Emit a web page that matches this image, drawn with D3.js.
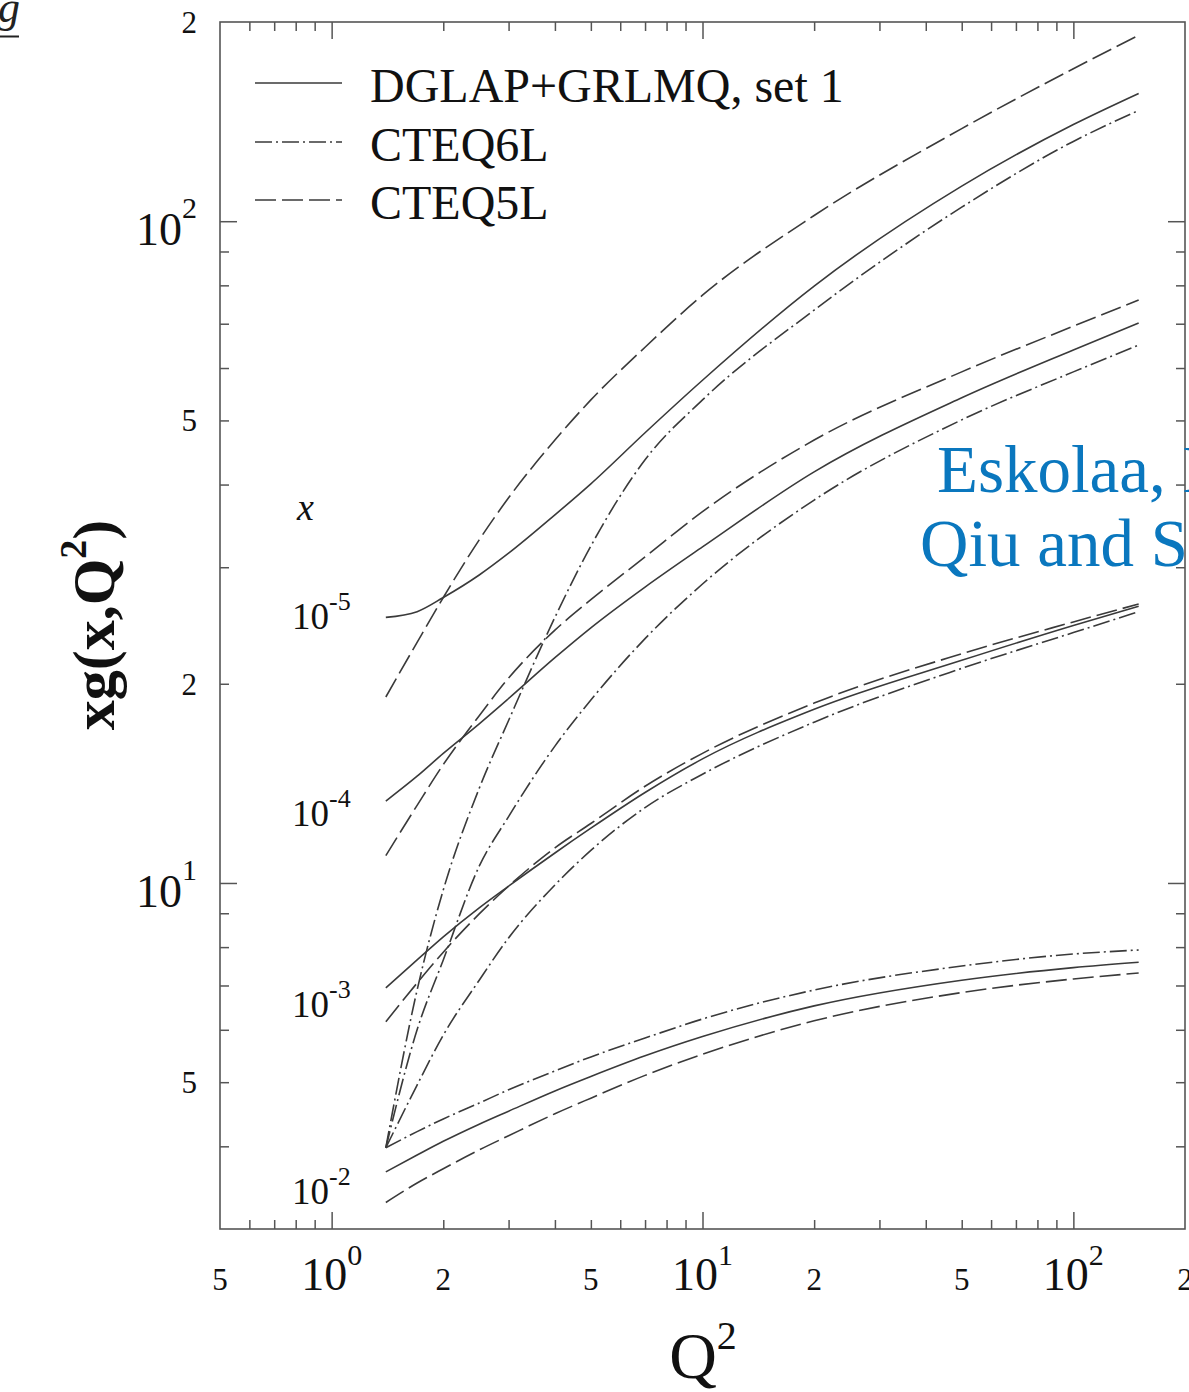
<!DOCTYPE html>
<html>
<head>
<meta charset="utf-8">
<script src="https://cdn.jsdelivr.net/npm/d3@7"></script>
<style>
  html, body { margin: 0; padding: 0; background: #fff; }
  svg { display: block; }
  text { font-family: "Liberation Serif", "Times New Roman", serif; }
</style>
</head>
<body>
<svg id="chart" width="1189" height="1392"></svg>
<script>
// Q^2 grid (GeV^2) shared by all curves
const Q2 = [1.4, 1.7, 2, 2.5, 3, 4, 5, 7, 10, 20, 50, 100, 150];

// x g(x,Q^2) for x = 1e-5
const grlmq_1e5  = [25.2, 25.7, 27.0, 29.2, 31.5, 36.0, 40.1, 47.9, 57.5, 79.8, 113, 140, 156];
const cteq6l_1e5 = [3.98, 6.89, 9.76, 13.9, 17.6, 25.2, 32.3, 43.6, 53.7, 73.4, 105, 132, 147];
const cteq5l_1e5 = [19.1, 23.1, 27.0, 33.0, 38.2, 46.7, 53.7, 64.5, 77.3, 102, 138, 170, 191];
// x = 1e-4
const grlmq_1e4  = [13.3, 14.5, 15.7, 17.4, 19.0, 21.9, 24.3, 28.0, 32.2, 41.8, 54.1, 63.9, 70.2];
const cteq6l_1e4 = [3.98, 6.00, 7.65, 10.6, 12.6, 16.1, 18.9, 23.4, 28.3, 37.9, 50.1, 59.2, 65.0];
const cteq5l_1e4 = [11.0, 13.1, 15.1, 17.9, 20.4, 24.1, 26.8, 31.1, 36.4, 46.7, 59.2, 69.4, 76.0];
// x = 1e-3
const grlmq_1e3  = [6.94, 7.65, 8.29, 9.17, 9.89, 11.1, 12.1, 13.7, 15.4, 18.3, 21.7, 24.5, 26.2];
const cteq6l_1e3 = [3.98, 4.95, 5.89, 7.13, 8.26, 9.93, 11.2, 13.0, 14.6, 17.5, 21.1, 23.9, 25.7];
const cteq5l_1e3 = [6.17, 7.06, 7.86, 8.98, 9.89, 11.3, 12.3, 14.0, 15.7, 18.7, 22.2, 24.8, 26.4];
// x = 1e-2
const grlmq_1e2  = [3.66, 3.88, 4.07, 4.32, 4.52, 4.85, 5.10, 5.48, 5.86, 6.52, 7.13, 7.45, 7.59];
const cteq6l_1e2 = [3.98, 4.21, 4.40, 4.65, 4.87, 5.20, 5.46, 5.83, 6.23, 6.89, 7.49, 7.81, 7.92];
const cteq5l_1e2 = [3.29, 3.52, 3.70, 3.95, 4.15, 4.48, 4.73, 5.12, 5.51, 6.19, 6.83, 7.16, 7.31];

// Legend entries
const legendNames = ["DGLAP+GRLMQ, set 1", "CTEQ6L", "CTEQ5L"];

// Axis tick values and labels
const xMajor = [1, 10, 100];
const xMinor = [0.6, 0.7, 0.8, 0.9, 2, 3, 4, 5, 6, 7, 8, 9, 20, 30, 40, 50, 60, 70, 80, 90];
const yMajor = [10, 100];
const yMinor = [4, 5, 6, 7, 8, 9, 20, 30, 40, 50, 60, 70, 80, 90];
const xLabelValues = [0.5, 1, 2, 5, 10, 20, 50, 100, 200];
const xLabelBase   = ["5", "10", "2", "5", "10", "2", "5", "10", "2"];
const xLabelExp    = ["", "0", "", "", "1", "", "", "2", ""];
const yLabelValues = [200, 100, 50, 20, 10, 5];
const yLabelBase   = ["2", "10", "5", "2", "10", "5"];
const yLabelExp    = ["", "2", "", "", "1", ""];

// Curve-family labels at the start of each bundle
const xFamilyExp = ["-5", "-4", "-3", "-2"];

const W = 1189, H = 1392;
const frame = { left: 220, right: 1185, top: 22, bottom: 1229 };
const ink = "#3a3a3a";
const axisInk = "#555";

const x = d3.scaleLog().domain([0.5, 200]).range([frame.left, frame.right]);
const y = d3.scaleLog().domain([3, 200]).range([frame.bottom, frame.top]);

const styles = [
  { name: legendNames[0], dash: null },
  { name: legendNames[1], dash: "17,4,2,4" },
  { name: legendNames[2], dash: "21,6" }
];

const series = [
  { style: 0, values: grlmq_1e5 },  { style: 1, values: cteq6l_1e5 }, { style: 2, values: cteq5l_1e5 },
  { style: 0, values: grlmq_1e4 },  { style: 1, values: cteq6l_1e4 }, { style: 2, values: cteq5l_1e4 },
  { style: 0, values: grlmq_1e3 },  { style: 1, values: cteq6l_1e3 }, { style: 2, values: cteq5l_1e3 },
  { style: 0, values: grlmq_1e2 },  { style: 1, values: cteq6l_1e2 }, { style: 2, values: cteq5l_1e2 }
];

const svg = d3.select("#chart");
svg.append("rect").attr("width", W).attr("height", H).attr("fill", "#fff");

// Frame
svg.append("rect")
  .attr("x", frame.left).attr("y", frame.top)
  .attr("width", frame.right - frame.left).attr("height", frame.bottom - frame.top)
  .attr("fill", "none").attr("stroke", axisInk).attr("stroke-width", 1.6);

// Inward ticks on all four sides
function ticks(axisFn, scale, values, size, transform) {
  svg.append("g").attr("transform", transform)
    .call(axisFn(scale).tickValues(values).tickSize(size).tickSizeOuter(0).tickFormat(""))
    .call(g => g.select(".domain").remove())
    .call(g => g.selectAll("line").attr("stroke", axisInk).attr("stroke-width", 1.5));
}
ticks(d3.axisBottom, x, xMajor, -17, `translate(0,${frame.bottom})`);
ticks(d3.axisBottom, x, xMinor, -9,  `translate(0,${frame.bottom})`);
ticks(d3.axisTop,    x, xMajor, -17, `translate(0,${frame.top})`);
ticks(d3.axisTop,    x, xMinor, -9,  `translate(0,${frame.top})`);
ticks(d3.axisLeft,   y, yMajor, -17, `translate(${frame.left},0)`);
ticks(d3.axisLeft,   y, yMinor, -9,  `translate(${frame.left},0)`);
ticks(d3.axisRight,  y, yMajor, -17, `translate(${frame.right},0)`);
ticks(d3.axisRight,  y, yMinor, -9,  `translate(${frame.right},0)`);

// Tick labels: plain digits for 2 and 5, powers of ten with superscripts
xLabelValues.forEach((v, i) => {
  const t = svg.append("text").attr("x", x(v)).attr("y", 1290)
    .attr("text-anchor", "middle").attr("fill", "#111");
  if (xLabelExp[i]) {
    t.append("tspan").attr("font-size", 46).text(xLabelBase[i]);
    t.append("tspan").attr("font-size", 30).attr("dy", -25).text(xLabelExp[i]);
  } else {
    t.attr("font-size", 31).text(xLabelBase[i]);
  }
});
yLabelValues.forEach((v, i) => {
  const t = svg.append("text").attr("x", 197).attr("text-anchor", "end").attr("fill", "#111");
  if (yLabelExp[i]) {
    t.attr("y", y(v) + 24);
    t.append("tspan").attr("font-size", 46).text(yLabelBase[i]);
    t.append("tspan").attr("font-size", 30).attr("dy", -27).text(yLabelExp[i]);
  } else {
    t.attr("y", y(v) + 11).attr("font-size", 31).text(yLabelBase[i]);
  }
});

// Axis titles
const xt = svg.append("text").attr("x", 703).attr("y", 1378)
  .attr("text-anchor", "middle").attr("fill", "#111");
xt.append("tspan").attr("font-size", 66).text("Q");
xt.append("tspan").attr("font-size", 40).attr("dy", -29).text("2");

const yt = svg.append("text")
  .attr("transform", "translate(114,625) rotate(-90)")
  .attr("text-anchor", "middle").attr("fill", "#111").attr("font-weight", "bold");
yt.append("tspan").attr("font-size", 60).text("xg(x,Q");
yt.append("tspan").attr("font-size", 38).attr("dy", -28).text("2");
yt.append("tspan").attr("font-size", 60).attr("dy", 28).text(")");

// Curves
const line = d3.line()
  .x(d => x(d[0]))
  .y(d => y(d[1]))
  .curve(d3.curveMonotoneX);

svg.append("g").selectAll("path")
  .data(series)
  .join("path")
  .attr("d", s => line(Q2.map((q, i) => [q, s.values[i]])))
  .attr("fill", "none")
  .attr("stroke", ink)
  .attr("stroke-width", 1.6)
  .attr("stroke-dasharray", s => styles[s.style].dash);

// Legend
const legendY = [83, 142, 200];
styles.forEach((st, i) => {
  svg.append("line")
    .attr("x1", 255).attr("x2", 342).attr("y1", legendY[i]).attr("y2", legendY[i])
    .attr("stroke", ink).attr("stroke-width", 1.6)
    .attr("stroke-dasharray", st.dash);
  svg.append("text").attr("x", 370).attr("y", legendY[i] + 19)
    .attr("font-size", 48).attr("fill", "#111").text(st.name);
});

// x values labelling each bundle of curves
svg.append("text").attr("x", 297).attr("y", 520)
  .attr("font-size", 38).attr("font-style", "italic").attr("fill", "#111").text("x");
const famBaseline = [629, 826, 1017, 1204];
xFamilyExp.forEach((e, i) => {
  const t = svg.append("text").attr("x", 292).attr("y", famBaseline[i]).attr("fill", "#111");
  t.append("tspan").attr("font-size", 37).text("10");
  t.append("tspan").attr("font-size", 26).attr("dy", -19).text(e);
});

// Author note overlaid on the right
const note = svg.append("g").attr("fill", "#0a77be").attr("font-size", 67);
note.append("text").attr("x", 937).attr("y", 492).text("Eskolaa, Kolhinen,");
note.append("text").attr("x", 920).attr("y", 566).text("Qiu and Salgado");

// Underlined letter in the top-left corner
svg.append("text").attr("x", -2).attr("y", 22)
  .attr("font-family", "Liberation Sans, sans-serif").attr("font-style", "italic")
  .attr("font-size", 44).attr("fill", "#222").text("g");
svg.append("line").attr("x1", 0).attr("x2", 19).attr("y1", 36.5).attr("y2", 36.5)
  .attr("stroke", "#222").attr("stroke-width", 2);
</script>
</body>
</html>
